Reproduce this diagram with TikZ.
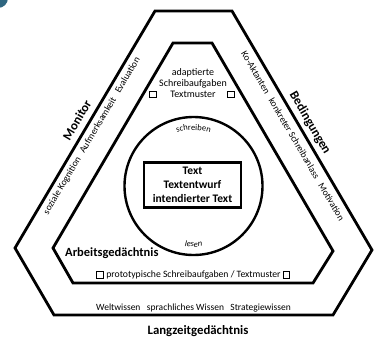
\documentclass[tikz,border=0pt]{standalone}
\usepackage{fontspec}
\setmainfont{Carlito}
\usetikzlibrary{calc,decorations.text}
\begin{document}
\begin{tikzpicture}[x=1pt,y=1pt,
  hexline/.style={line width=2.8pt,line join=miter},
  cornerbox/.style={draw,line width=0.8pt,minimum size=6.5pt,inner sep=0pt},
  small/.style={font=\fontsize{9.5}{11}\selectfont,inner sep=0pt},
  heading/.style={font=\bfseries\fontsize{12.8}{14}\selectfont,inner sep=0pt},
]
\useasboundingbox[fill=white] (0,0) rectangle (375,-338);
\begin{scope}
\clip (0,0) rectangle (375,-338);
\fill[fill={rgb,255:red,47;green,102;blue,128}] (-2,2) circle[radius=10];
\end{scope}
% outer hexagon
\draw[hexline] (155,-11) -- (232,-11) -- (372,-250) -- (333,-315) -- (54,-315) -- (15,-248) -- cycle;
% inner hexagon
\draw[hexline] (173,-43) -- (212,-43) -- (333,-251) -- (313,-283) -- (73,-283) -- (53,-248) -- cycle;
% circle
\coordinate (c) at (193.5,-186);
\draw[line width=2.4pt] (c) circle[radius=69];
\path[decorate,decoration={text along path,text align=center,
  text={|\fontsize{8.5}{9}\selectfont|schreiben}}]
  ($(c)+(160:56)$) arc[start angle=160,end angle=20,radius=56];
\path[decorate,decoration={text along path,text align=center,
  text={|\fontsize{8.5}{9}\selectfont\itshape|lesen}}]
  ($(c)+(200:61)$) arc[start angle=200,end angle=340,radius=61];
% central text box
\node[draw,line width=2.2pt,minimum width=97pt,minimum height=45pt,inner sep=0pt,
  align=center,font=\bfseries\fontsize{11.5}{14}\selectfont] (text) at (192.5,-185)
  {Text\\Textentwurf\\intendierter Text};
% upper task text
\node[align=center,font=\fontsize{10}{11.2}\selectfont,inner sep=0pt] (adapt) at (193,-83)
  {adaptierte\\Schreibaufgaben\\Textmuster};
\node[cornerbox] (sqA) at (153,-94.5) {};
\node[cornerbox] (sqB) at (231,-94.5) {};
% working memory
\node[anchor=west,font=\bfseries\fontsize{12.5}{14}\selectfont,inner sep=0pt] (ag) at (65,-253) {Arbeitsgedächtnis};
\node[small,font=\fontsize{9.7}{11}\selectfont] (proto) at (193.5,-275) {prototypische Schreibaufgaben / Textmuster};
\node[cornerbox] (sqC) at (100,-275) {};
\node[cornerbox] (sqD) at (286.5,-275) {};
% long-term memory
\node[small] (wissen) at (193.5,-308) {Weltwissen\hspace{0.45em} sprachliches Wissen\hspace{0.45em} Strategiewissen};
\node[heading] (lzg) at (198,-331) {Langzeitgedächtnis};
% monitor side
\node[heading,rotate=59.4] (monitor) at (77,-120) {Monitor};
\node[small,rotate=59.4] (mon) at (92,-136) {soziale Kognition\hspace{0.45em} Aufmerksamkeit\hspace{0.45em} Evaluation};
% conditions side
\node[heading,rotate=-59.6] (bed) at (310,-123) {Bedingungen};
\node[small,rotate=-59.6] (bedt) at (293,-136) {Ko-Aktanten\hspace{0.45em} konkreter Schreibanlass\hspace{0.45em} Motivation};
\end{tikzpicture}
\end{document}
